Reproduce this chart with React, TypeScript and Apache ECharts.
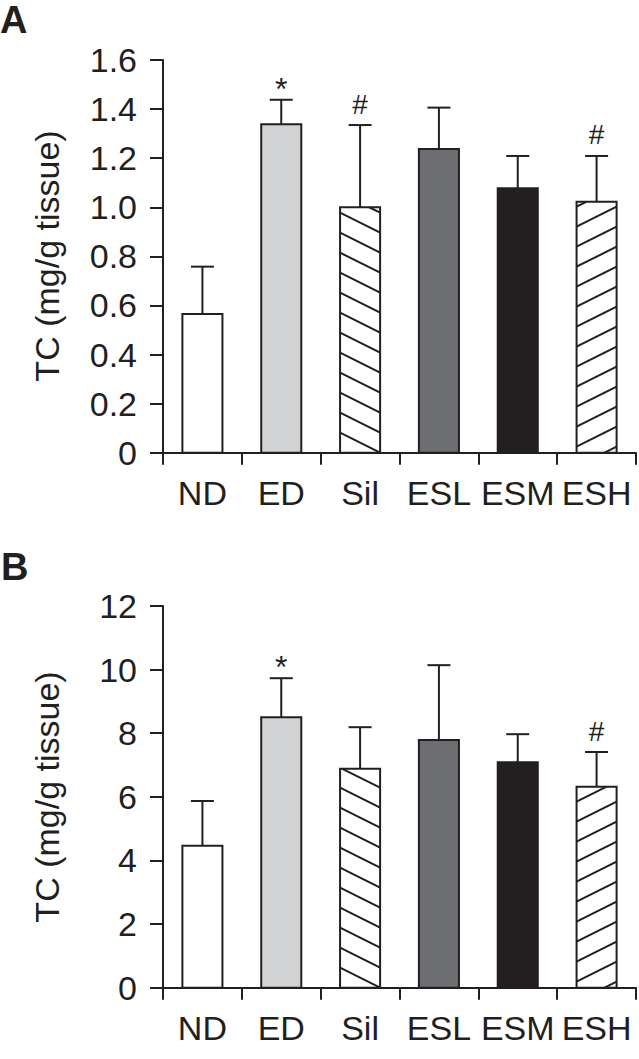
import React, { useEffect, useRef } from "react";
import * as echarts from "echarts";

const categories = ["ND", "ED", "Sil", "ESL", "ESM", "ESH"];
const meanA = [0.565, 1.338, 1.0, 1.237, 1.077, 1.022];
const sdA = [0.193, 0.1, 0.335, 0.169, 0.132, 0.187];
const meanB = [4.46, 8.5, 6.88, 7.79, 7.09, 6.32];
const sdB = [1.41, 1.23, 1.31, 2.35, 0.88, 1.09];
const marksA = ["", "*", "#", "", "", "#"];
const marksB = ["", "*", "", "", "", "#"];
const fills = ["#ffffff", "#d1d3d4", "#ffffff", "#6d6e71", "#231f20", "#ffffff"];
const hatches = ["none", "none", "back", "none", "none", "fwd"];
const yTitle = "TC (mg/g tissue)";
const panelLabels = ["A", "B"];

const INK = "#231f20";
const FONT = "'Liberation Sans', Arial, Helvetica, sans-serif";

function makeRender(marks: string[]) {
  return (params: any, api: any) => {
    const i = params.dataIndex;
    const v = api.value(1);
    const sd = api.value(2);
    const top = api.coord([i, v]);
    const base = api.coord([i, 0]);
    const errP = api.coord([i, v + sd]);
    const cx = top[0];
    const yt = top[1];
    const yb = base[1];
    const ye = errP[1];
    const bw = api.size([1, 0])[0] * 0.508;
    const x0 = cx - bw / 2;
    const x1 = cx + bw / 2;
    const children: any[] = [];
    children.push({
      type: "line",
      shape: { x1: cx, y1: yt, x2: cx, y2: ye },
      style: { stroke: INK, lineWidth: 2 },
    });
    children.push({
      type: "line",
      shape: { x1: cx - 11.5, y1: ye, x2: cx + 11.5, y2: ye },
      style: { stroke: INK, lineWidth: 2 },
    });
    children.push({
      type: "rect",
      shape: { x: x0, y: yt, width: bw, height: yb - yt },
      style: { fill: fills[i], stroke: null },
    });
    const s = 0.5;
    const d = 20;
    if (hatches[i] === "back") {
      for (let c = yb; c > yt - s * bw; c -= d) {
        const xa = Math.max(x0, x0 + (yt - c) / s);
        const xb = Math.min(x1, x0 + (yb - c) / s);
        if (xb - xa > 0.5) {
          children.push({
            type: "line",
            shape: { x1: xa, y1: c + s * (xa - x0), x2: xb, y2: c + s * (xb - x0) },
            style: { stroke: INK, lineWidth: 2 },
          });
        }
      }
    } else if (hatches[i] === "fwd") {
      for (let c = yb + s * bw - 6; c > yt; c -= d) {
        const xa = Math.max(x0, x0 + (c - yb) / s);
        const xb = Math.min(x1, x0 + (c - yt) / s);
        if (xb - xa > 0.5) {
          children.push({
            type: "line",
            shape: { x1: xa, y1: c - s * (xa - x0), x2: xb, y2: c - s * (xb - x0) },
            style: { stroke: INK, lineWidth: 2 },
          });
        }
      }
    }
    children.push({
      type: "rect",
      shape: { x: x0, y: yt, width: bw, height: yb - yt },
      style: { fill: "none", stroke: INK, lineWidth: 2 },
    });
    const m = marks[i];
    if (m) {
      const star = m === "*";
      children.push({
        type: "text",
        style: {
          text: m,
          x: cx,
          y: ye - (star ? 11 : 21),
          textAlign: "center",
          textVerticalAlign: "middle",
          fontSize: star ? 32 : 28,
          fontFamily: FONT,
          fill: INK,
        },
      });
    }
    return { type: "group", children };
  };
}

function yAxisCfg(gridIndex: number, max: number, interval: number, fmt: (v: number) => string) {
  return {
    type: "value",
    gridIndex,
    min: 0,
    max,
    interval,
    axisLine: { show: true, lineStyle: { color: INK, width: 2 } },
    axisTick: { show: true, inside: false, length: 13, lineStyle: { color: INK, width: 2 } },
    splitLine: { show: false },
    axisLabel: { fontSize: 34, color: INK, fontFamily: FONT, margin: 26, formatter: fmt },
  };
}

function xAxisCfg(gridIndex: number) {
  return {
    type: "category",
    gridIndex,
    data: categories,
    boundaryGap: true,
    axisLine: { show: true, lineStyle: { color: INK, width: 2 } },
    axisTick: { show: true, inside: false, length: 12, alignWithLabel: false, lineStyle: { color: INK, width: 2 } },
    axisLabel: { fontSize: 34, color: INK, fontFamily: FONT, margin: 23, interval: 0 },
    splitLine: { show: false },
  };
}

export default function App() {
  const ref = useRef<HTMLDivElement>(null);
  useEffect(() => {
    if (!ref.current) return;
    const chart = echarts.init(ref.current, undefined, { renderer: "svg" });
    const dataA = categories.map((_, i) => [i, meanA[i], sdA[i]]);
    const dataB = categories.map((_, i) => [i, meanB[i], sdB[i]]);
    chart.setOption({
      animation: false,
      backgroundColor: "#ffffff",
      grid: [
        { left: 163, right: 3, top: 60, height: 392.7 },
        { left: 163, right: 3, top: 606, height: 381.7 },
      ],
      xAxis: [xAxisCfg(0), xAxisCfg(1)],
      yAxis: [
        yAxisCfg(0, 1.6, 0.2, (v: number) => (v === 0 ? "0" : v.toFixed(1))),
        yAxisCfg(1, 12, 2, (v: number) => String(Math.round(v))),
      ],
      series: [
        {
          type: "custom",
          xAxisIndex: 0,
          yAxisIndex: 0,
          data: dataA,
          encode: { x: 0, y: 1 },
          clip: false,
          renderItem: makeRender(marksA),
        },
        {
          type: "custom",
          xAxisIndex: 1,
          yAxisIndex: 1,
          data: dataB,
          encode: { x: 0, y: 1 },
          clip: false,
          renderItem: makeRender(marksB),
        },
      ],
      graphic: [
        {
          type: "text",
          x: 0,
          y: 20,
          style: { text: panelLabels[0], font: `bold 38px ${FONT}`, fill: INK, textVerticalAlign: "middle" },
        },
        {
          type: "text",
          x: 1,
          y: 567,
          style: { text: panelLabels[1], font: `bold 38px ${FONT}`, fill: INK, textVerticalAlign: "middle" },
        },
        {
          type: "text",
          x: 47,
          y: 256,
          rotation: Math.PI / 2,
          style: { text: yTitle, fontSize: 34, fontFamily: FONT, fill: INK, textAlign: "center", textVerticalAlign: "middle" },
        },
        {
          type: "text",
          x: 47,
          y: 797,
          rotation: Math.PI / 2,
          style: { text: yTitle, fontSize: 34, fontFamily: FONT, fill: INK, textAlign: "center", textVerticalAlign: "middle" },
        },
      ],
    });
    return () => chart.dispose();
  }, []);
  return (
    <div
      ref={ref}
      style={{ position: "fixed", left: 0, top: 0, width: 639, height: 1059, background: "#fff" }}
    />
  );
}
